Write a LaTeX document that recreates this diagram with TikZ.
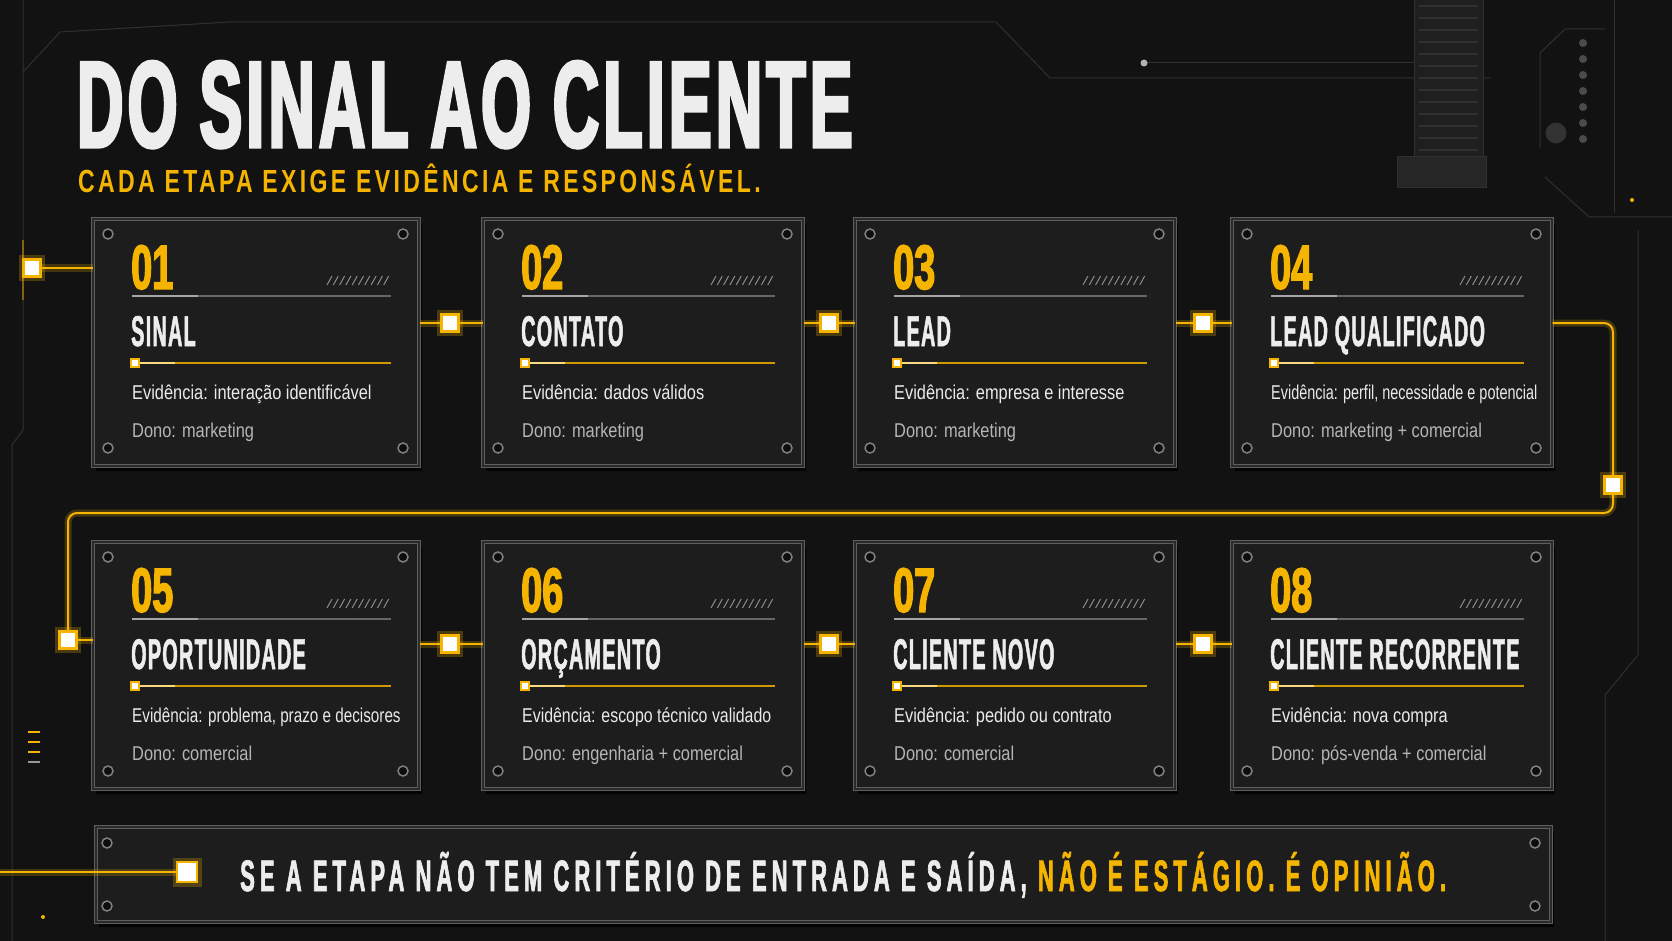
\documentclass[tikz,border=0pt]{standalone}
\usepackage{fontspec}
\setmainfont{Liberation Sans}
\newfontfamily\bigfont[FakeStretch=0.52,FakeBold=2.5,LetterSpace=3.5]{Liberation Sans}
\newfontfamily\numfont[FakeStretch=0.60,FakeBold=2]{Liberation Sans}
\newfontfamily\cardfont[FakeStretch=0.46,FakeBold=1.2,LetterSpace=3]{Liberation Sans}
\newfontfamily\subfont[FakeStretch=0.72,LetterSpace=10.5]{Liberation Sans}
\newfontfamily\bannerfont[FakeStretch=0.50,LetterSpace=11.5,FakeBold=1.5]{Liberation Sans}
\newfontfamily\bodyfont[FakeStretch=0.82]{Liberation Sans}
\usetikzlibrary{positioning}
\usetikzlibrary{shapes.misc}
\usetikzlibrary{shadows}
\usetikzlibrary{calc}

\definecolor{bgdark}{HTML}{121212}
\definecolor{gold}{HTML}{F4B400}
\definecolor{cardfill}{HTML}{1D1D1D}
\definecolor{cardedge}{HTML}{5E5E5E}
\definecolor{cardrim}{HTML}{2A2A2A}
\definecolor{panelline}{HTML}{303030}
\definecolor{titlewhite}{HTML}{EDEDED}
\definecolor{evtext}{HTML}{EAEAEA}
\definecolor{donotext}{HTML}{B5B5B5}

\tikzset{
  card/.style={chamfered rectangle, chamfered rectangle xsep=5pt, draw=cardedge,
    double=cardrim, double distance=2.5pt, line width=1pt, fill=cardfill, inner sep=0,
    drop shadow={fill=black, opacity=0.75, shadow xshift=3pt, shadow yshift=-5pt}},
  screw/.style={circle, minimum size=10pt, inner sep=0, fill=black!95, draw=black!50, line width=1.5pt},
  jsq/.style={draw=gold, fill=white, line width=2.5pt, minimum size=17pt, inner sep=0,
    preaction={draw=gold, draw opacity=0.25, line width=9pt}},
  minisq/.style={draw=gold, fill=white, line width=1.5pt, minimum size=8pt, inner sep=0},
  wire/.style={draw=gold, line width=2pt, preaction={draw=gold, draw opacity=0.22, line width=7pt}},
  panel/.style={draw=panelline, line width=1pt},
  rule/.style={draw=black!60, line width=1.2pt},
  rulehi/.style={draw=black!35, line width=2pt},
  goldrule/.style={draw=gold!85!black, line width=1.2pt},
  goldhi/.style={draw=gold!50!white, line width=2pt},
  hatch/.style={draw=black!45, line width=1pt},
  numtxt/.style={inner sep=0, anchor=base west, text=gold, font=\numfont\bfseries\fontsize{63}{63}\selectfont},
  ttltxt/.style={inner sep=0, anchor=base west, text=titlewhite, font=\cardfont\bfseries\fontsize{43}{43}\selectfont},
  evtxt/.style={inner sep=0, anchor=base west, text=evtext, font=\bodyfont\fontsize{20}{20}\selectfont},
  donotxt/.style={inner sep=0, anchor=base west, text=donotext, font=\bodyfont\fontsize{20}{20}\selectfont},
}

\begin{document}
\begin{tikzpicture}[x=1pt,y=-1pt]
  \fill[bgdark] (0,0) rectangle (1672,941);
  \useasboundingbox (0,0) rectangle (1672,941);

  % panel lines round the edges
  \draw[panel] (23,0) -- (23,430) -- (12,445) -- (12,941);
  \draw[panel] (23,72) -- (60,32) -- (230,22) -- (996,22) -- (1050,78) -- (1491,78);
  \draw[panel] (1144,63) -- (1475,63);
  \fill[black!30] (1144,63) circle (3.5);
  \draw[panel, fill=black!88] (1414,-2) rectangle (1483,157);
  \foreach \k in {0,...,12}
    \draw[panel, line width=1.5pt] (1419,6+\k*12) -- (1478,6+\k*12);
  \draw[panel, fill=black!85] (1397,157) rectangle (1486,188);
  \draw[panel] (1540,148) -- (1540,53) -- (1565,29) -- (1605,29);
  \foreach \k in {0,...,6}
    \fill[black!70] (1583,43+\k*16) circle (4);
  \draw[panel, fill=black!80] (1556,133) circle (10);
  \draw[panel] (1545,177) -- (1589,217) -- (1672,217);
  \draw[panel] (1614,0) -- (1614,213);
  \draw[panel] (1638,230) -- (1638,655) -- (1605,695) -- (1605,941);
  \draw[draw=gold, opacity=0.45, line width=1.5pt] (23,240) -- (23,300);
  \foreach \k in {0,1,2}
    \draw[gold, line width=2pt] (28,732+\k*10) -- (40,732+\k*10);
  \draw[black!40, line width=2pt] (28,762) -- (40,762);
  \fill[gold] (43,917) circle (2);
  \fill[gold] (1632,200) circle (2);

  % title
  \node[inner sep=0, anchor=base west, text depth=0pt, text=titlewhite, font=\bigfont\bfseries\fontsize{123}{123}\selectfont] (title) at (77,147) {DO SINAL AO CLIENTE};
  \node[inner sep=0, anchor=base west, text depth=0pt, text=gold, font=\subfont\bfseries\fontsize{32}{32}\selectfont] (sub) at (78,193) {CADA ETAPA EXIGE EVID\^ENCIA E RESPONS\'AVEL.};

  % stage cards
  \foreach \n/\x/\y/\w/\num/\ttl/\ev/\dono/\sc in {
    1/93/219/326/01/SINAL/{Evidência: interação identificável}/{Dono: marketing}/1,
    2/483/219/320/02/CONTATO/{Evidência: dados válidos}/{Dono: marketing}/1,
    3/855/219/320/03/LEAD/{Evidência: empresa e interesse}/{Dono: marketing}/1,
    4/1232/219/320/04/LEAD QUALIFICADO/{Evidência: perfil, necessidade e potencial}/{Dono: marketing + comercial}/0.88,
    5/93/542/326/05/OPORTUNIDADE/{Evidência: problema, prazo e decisores}/{Dono: comercial}/0.93,
    6/483/542/320/06/ORÇAMENTO/{Evidência: escopo técnico validado}/{Dono: engenharia + comercial}/0.97,
    7/855/542/320/07/CLIENTE NOVO/{Evidência: pedido ou contrato}/{Dono: comercial}/1,
    8/1232/542/320/08/CLIENTE RECORRENTE/{Evidência: nova compra}/{Dono: pós-venda + comercial}/1}
  {
    \node[card, minimum width=\w pt, minimum height=247pt] (c\n) at (\x+\w/2,\y+123.5) {};
    \draw[rule] (\x+39,\y+77) -- (\x+\w-28,\y+77);
    \draw[rulehi] (\x+39,\y+77) -- (\x+105,\y+77);
    \foreach \k in {0,...,9}
      \draw[hatch] (\x+\w-92+\k*6.3,\y+66) -- ++(5,-9);
    \node[numtxt] (n\n) at (\x+38,\y+70) {\num};
    \node[ttltxt] (t\n) at (\x+38,\y+127) {\ttl};
    \draw[goldrule] (\x+39,\y+144) -- (\x+\w-28,\y+144);
    \draw[goldhi] (\x+47,\y+144) -- (\x+82,\y+144);
    \node[minisq] (m\n) at (\x+42,\y+144) {};
    \node[evtxt] (e\n) at (\x+39,\y+180) {\scalebox{\sc}[1]{\ev}};
    \node[donotxt] (d\n) at (\x+39,\y+218) {\dono};
    \foreach \sx/\sy [count=\k] in {15/15, \w-16/15, 15/229, \w-16/229}
      \node[screw] (s\n\k) at (\x+\sx,\y+\sy) {};
  }

  % connectors
  \node[jsq] (j0) at (32,268) {};
  \node[jsq] (j1) at (450,323) {};
  \node[jsq] (j2) at (829,323) {};
  \node[jsq] (j3) at (1203,323) {};
  \node[jsq] (j4) at (1613,485) {};
  \node[jsq] (j5) at (68,640) {};
  \node[jsq] (j6) at (450,644) {};
  \node[jsq] (j7) at (829,644) {};
  \node[jsq] (j8) at (1203,644) {};
  \coordinate (turn) at (0,513);
  \draw[wire] (j0) -- (c1.west |- j0);
  \foreach \a/\b/\j in {1/2/1, 2/3/2, 3/4/3, 5/6/6, 6/7/7, 7/8/8}
    \draw[wire] (c\a.east |- j\j) -- (j\j) -- (c\b.west |- j\j);
  \draw[wire, rounded corners=9pt] (c4.east |- j3) -| (j4);
  \draw[wire, rounded corners=9pt] (j4) -- (j4 |- turn) -- (j5 |- turn) -- (j5);
  \draw[wire] (j5) -- (c5.west |- j5);

  % closing banner
  \node[card, minimum width=1455pt, minimum height=95pt] (bn) at (823.5,874.5) {};
  \foreach \sx/\sy [count=\k] in {107/843, 107/906, 1535/843, 1535/906}
    \node[screw] (sb\k) at (\sx,\sy) {};
  \node[jsq, minimum size=20pt] (jb) at (187,872) {};
  \coordinate (bl) at (0,872);
  \draw[wire] (bl) -- (jb);
  \node[inner sep=0, anchor=base west, text=titlewhite, font=\bannerfont\bfseries\fontsize{44}{44}\selectfont] (bt) at (240,891)
    {SE A ETAPA NÃO TEM CRITÉRIO DE ENTRADA E SAÍDA, \textcolor{gold}{NÃO É ESTÁGIO. É OPINIÃO.}};
\end{tikzpicture}
\end{document}
